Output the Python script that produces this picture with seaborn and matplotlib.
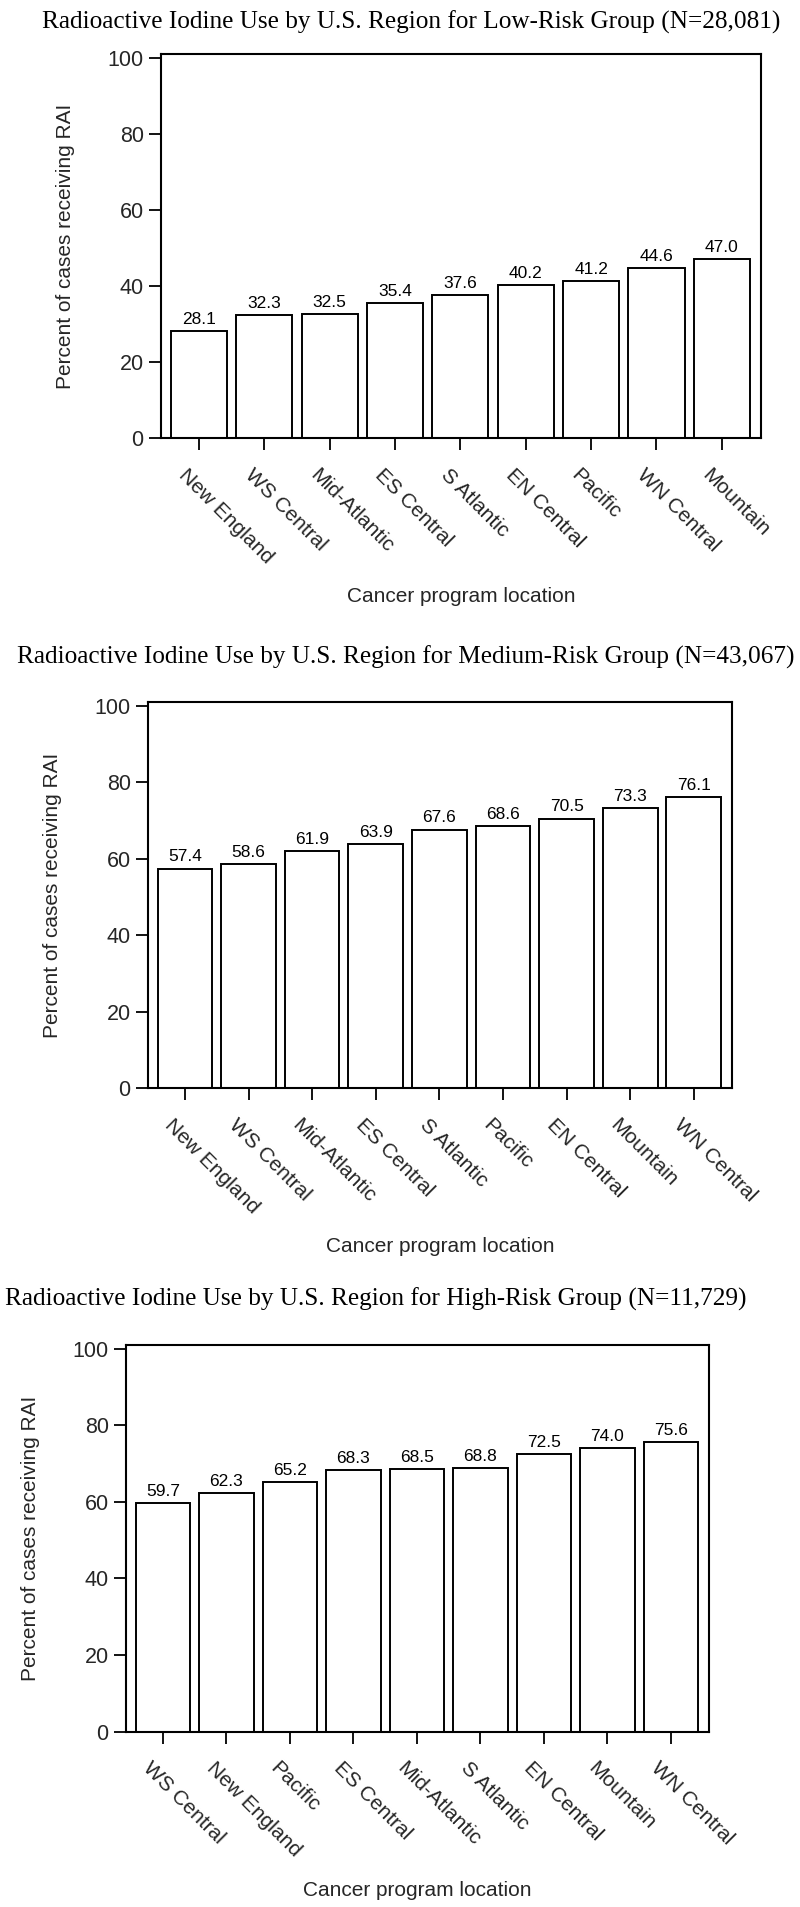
import matplotlib
matplotlib.use("Agg")
import matplotlib.pyplot as plt
import matplotlib.transforms as mtransforms
import numpy as np
import pandas as pd
import seaborn as sns

# ---------------- data ----------------
low_regions = ["New England", "WS Central", "Mid-Atlantic", "ES Central", "S Atlantic",
               "EN Central", "Pacific", "WN Central", "Mountain"]
low_values = [28.1, 32.3, 32.5, 35.4, 37.6, 40.2, 41.2, 44.6, 47.0]

med_regions = ["New England", "WS Central", "Mid-Atlantic", "ES Central", "S Atlantic",
               "Pacific", "EN Central", "Mountain", "WN Central"]
med_values = [57.4, 58.6, 61.9, 63.9, 67.6, 68.6, 70.5, 73.3, 76.1]

high_regions = ["WS Central", "New England", "Pacific", "ES Central", "Mid-Atlantic",
                "S Atlantic", "EN Central", "Mountain", "WN Central"]
high_values = [59.7, 62.3, 65.2, 68.3, 68.5, 68.8, 72.5, 74.0, 75.6]

titles = [
    "Radioactive Iodine Use by U.S. Region for Low-Risk Group (N=28,081)",
    "Radioactive Iodine Use by U.S. Region for Medium-Risk Group (N=43,067)",
    "Radioactive Iodine Use by U.S. Region for High-Risk Group (N=11,729)",
]
y_ticks = [0, 20, 40, 60, 80, 100]
y_label = "Percent of cases receiving RAI"
x_label = "Cancer program location"

# ---------------- style ----------------
sns.set_style("ticks")
plt.rcParams["font.family"] = ["Liberation Sans", "DejaVu Sans"]
plt.rcParams["text.color"] = "black"

W, H = 800, 1907
fig = plt.figure(figsize=(W / 100, H / 100), dpi=100)

# pixel boxes: (left, right, top, bottom)
boxes = [(161, 761, 54, 438), (148, 732, 702, 1088), (126, 709, 1345, 1731.5)]
title_pos = [(42, 22), (17, 657), (5, 1299)]
panels = [(low_regions, low_values), (med_regions, med_values), (high_regions, high_values)]

for (regions, values), (L, R, T, B), title, (tx, ty) in zip(panels, boxes, titles, title_pos):
    ax = fig.add_axes([L / W, 1 - B / H, (R - L) / W, (B - T) / H])
    df = pd.DataFrame({"region": regions, "pct": values})
    sns.barplot(data=df, x="region", y="pct", order=regions, color="white",
                saturation=1, edgecolor="black", linewidth=1.4, width=0.86,
                errorbar=None, ax=ax)
    ax.bar_label(ax.containers[0], fmt="%.1f", padding=3, fontsize=12.5)

    ax.set_xlim(-0.58, 8.6)
    ax.set_ylim(0, 101)
    ax.set_yticks(y_ticks)
    ax.set_xticks(range(len(regions)))
    ax.set_xticklabels(regions, rotation=-45, ha="left", va="top",
                       rotation_mode="anchor")

    for side in ["left", "right", "top", "bottom"]:
        ax.spines[side].set_visible(True)
        ax.spines[side].set_color("black")
        ax.spines[side].set_linewidth(1.5)

    ax.tick_params(axis="both", direction="out", length=8.5, width=1.3, color="black")
    ax.tick_params(axis="y", labelsize=15.5, pad=4)
    ax.tick_params(axis="x", labelsize=15, pad=11)

    offset = mtransforms.ScaledTranslation(-0.10, 0, fig.dpi_scale_trans)
    for lab in ax.get_xticklabels():
        lab.set_transform(lab.get_transform() + offset)

    ax.set_ylabel(y_label, fontsize=15)
    ax.set_xlabel(x_label, fontsize=15)
    ax.yaxis.set_label_coords(-86 / (R - L), 0.5)
    ax.xaxis.set_label_coords(0.5, -149 / (B - T))

    fig.text(tx / W, 1 - ty / H, title, family=["Liberation Serif", "DejaVu Serif"],
             fontsize=18.2, ha="left", va="center")

fig.savefig("out.png", dpi=100)
